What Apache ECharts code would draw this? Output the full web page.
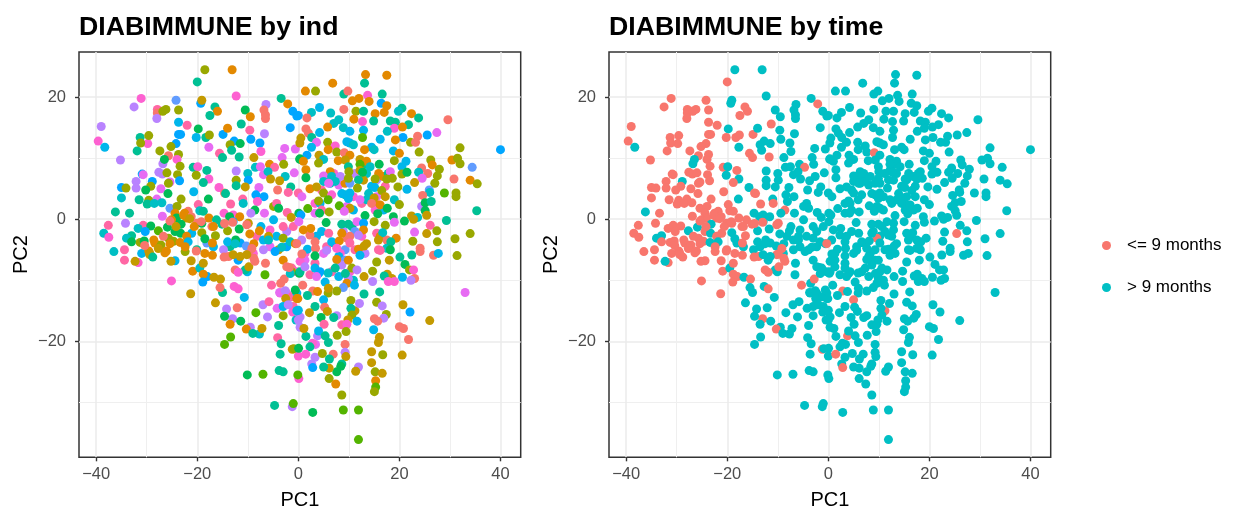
<!DOCTYPE html>
<html><head><meta charset="utf-8">
<style>html,body{margin:0;padding:0;background:#fff}#c{width:1238px;height:508px}</style>
<script src="https://cdn.jsdelivr.net/npm/echarts@6/dist/echarts.min.js"></script>
</head><body><div id="c"></div>
<script>
// rows: [PC1, PC2, individual index, time group (0: <= 9 months, 1: > 9 months)]
const denseCore = [
[5.3,7,8,1],[7,7.5,13,1],[6.3,5.9,7,1],[8,5.6,12,1],[9.25,5.9,1,1],[4.6,4.8,14,1],[3.3,2.6,13,1],[4.3,2.6,8,1],[3.3,1,12,1],[4.6,1.5,14,1],[9.25,4,7,1],[10.9,3.7,13,1],[9.6,2.1,12,1],[10.9,1.5,8,1],[12.55,8.6,6,1],[13.5,7.5,7,1],[12.9,6.4,2,1],[14.5,5.4,8,1],[15.5,6.45,11,1],[17.2,5.4,14,1],[16.8,7,1,1],[17.8,7.5,6,1],[15.5,3.7,12,1],[15.85,2.35,1,1],[16.85,1.5,8,1],[15.2,1.5,13,1],[12.55,2.6,14,1],[13.55,3.2,7,1],[11.2,7.5,11,1],[11.9,6.45,6,1],[10.2,5.9,10,1],
[10.6,-1.2,6,1],[11.2,-2,10,1],[12.55,-2.8,13,1],[8.9,-2,11,1],[10.2,-2.8,0,1],[15.5,-2.3,14,1],[16.2,-2.8,1,1],[17.5,-3.4,0,1],[17.5,-4.75,7,1],[15.85,-5,14,1],[13.2,-5.6,11,1],[11.2,-5,14,1],[9.25,-5,10,1],[8.3,-5.6,13,1],[7,-3.9,7,1],[5.6,-4.5,14,1],[3.6,-2.8,8,1],[2.3,-2.6,0,1],[0.67,-3.4,11,1],[1.3,-5.6,13,1],[5,-5.6,12,1],
[1.3,-6.7,12,1],[3.3,-7.2,14,1],[8,-6.1,8,1],[9.25,-6.7,10,1],[8.6,-7.5,11,1],[10.2,-8.6,13,1],[10.9,-10,7,1],[6.6,-8.6,14,1],[4,-8.9,8,1],[0.35,-6.9,13,1],[2.3,-9.1,14,1],[9.9,-9.7,11,1],[8,-9.4,8,1],
[-5.6,-1.75,13,1],[-4.3,-2.8,8,1],[-2.3,-2,11,1],[-1,-1.2,14,1],[-5.6,-4.5,12,1],[-2.3,-4.5,9,1],[-8.2,-2.8,14,1],[-6.9,-3.4,8,1],[-8.9,-5.6,13,1],[-11.5,-3.9,9,1],[-13.5,-4.5,6,1],[-16.8,-4.5,8,1],[-18.1,-3.9,10,1],
[-2.3,-12.1,12,1],[-1.3,-12.7,14,1],[-3.6,-12.1,13,1],[-0.3,-12.1,8,1],[-2.3,-13.8,11,1],[-1,-14.3,14,1],[0.35,-16,11,1],[-1.3,-8,14,1],[-0.3,-8.6,13,1]
];
const upperLeft = [
[-18.5,24.5,3,1],[-13.1,24.5,1,1],[-20,22.5,6,0],[-12.3,20.2,13,1],[-31.1,19.8,13,0],[-32.5,18.4,11,0],[-24.2,19.5,10,0],[-19.3,19,9,1],[-19.1,19.5,2,1],
[-27.9,18,14,0],[-27.9,17.4,0,0],[-28,16.5,11,0],[-26.2,18,3,0],[-26.8,17.7,3,0],[-23.7,17.9,3,0],[-16.5,18.4,6,0],[-16,17.7,1,0],[-17.5,17,6,0],[-10.5,17.9,5,1],[-9.5,16.8,1,1],
[-6.4,18.8,11,1],[-6.8,17.9,0,1],[-6.5,16.5,0,1],[-6.5,17.1,0,1],[-3.4,19.8,6,1],[-2.1,18.9,1,0],[-1.1,17.7,9,1],[-0.3,16.9,9,1],[-39,15.2,11,0],[-39.6,12.8,13,0],[-38.3,11.8,8,1],
[-23.7,15.9,8,0],[-22,15.4,14,0],[-19.8,14.8,5,1],[-23.7,13.9,9,0],[-23.3,13.9,9,0],[-20.2,13.4,8,0],[-18.3,13.4,6,0],[-17.6,13.8,3,0],[-14.9,13.9,9,0],[-14,14.9,1,1],[-11.3,15.6,6,0],
[-9.6,14.6,14,1],[-6.7,14,11,1],[-9.4,13.1,9,1],[-7.6,12.5,9,1],[-1.6,15,9,1],[-31.3,13.4,6,0],[-29.8,12.4,13,0],[-29.6,13.7,3,0],[-31.2,12.5,3,0],[-31.9,11.2,6,0],[-24.2,12.4,9,0],[-25.2,11.9,3,0],[-27.4,11.2,3,0],
[-35.2,9.7,11,0],[-25.7,10.4,0,0],[-23.7,10.6,3,0],[-24,9.8,13,0],[-26.8,9.1,11,1],[-26.5,9.8,5,1],[-17.7,11.8,12,1],[-12.7,12.8,9,1],[-13.5,12.2,3,1],[-11.5,12.4,5,1],[-13.2,11.3,6,1],[-11.7,10.2,6,0],
[-15.6,10.8,14,0],[-15,10.1,6,0],[-7.4,11.1,13,1],[-8.8,10.1,2,1],[-2.7,11.6,12,1],[-0.6,11.5,12,1],[-3.2,10.1,12,1],[-2.9,9,3,1],[0.3,9.8,5,1],
[-23.4,8.7,3,0],[-20.8,8.5,6,0],[-19.9,8.6,13,1],[-18.1,8,6,0],[-20.2,7.2,3,1],[-27.6,7.7,11,0],[-30.9,7.4,9,0],[-30.7,7.3,12,0],[-26.9,7.4,11,0],[-26,7.6,3,0],[-23.9,7.3,3,0],[-23.5,6.3,9,0],
[-12.3,7.9,11,1],[-8.5,8.5,7,1],[-7.5,8.6,12,1],[-5.7,9,1,1],[-4.7,8.5,14,0],[-10,7.5,7,1],[-6.9,7.3,12,1],[-6,7.8,7,1],[-5.5,6.6,2,1],[-9.9,6.4,9,1],[-12.3,6.4,3,1],[-2.6,7,7,1],[-3.7,6.3,2,1],[-0.8,7.6,12,1],
[-17.7,6.6,13,1],[-18.8,6,6,0],[-32.1,6.2,11,0],[-28.9,6.2,9,1],[-25.4,6.1,12,0],[-25.7,5.9,3,0],[-32.1,5.1,11,0],[-29.2,5.4,3,0],[-35,5.2,9,0],[-34.1,5.1,3,0],[-30.2,4.8,5,0],[-27.2,5,12,0],
[-20.7,4.5,8,0],[-25.8,4.2,5,0],[-15.7,5.2,13,1],[-14.6,4.3,0,0],[-14.4,4.2,6,0],[-12.3,5.5,6,1],[-10.5,5.3,2,1],[-7.8,5.2,12,1],[-1.5,5.3,6,1],[-4.1,4.8,0,1],[-2,4.4,14,1],[-8.4,4,9,1],[-6.8,3.7,9,1],
[-35,3.5,7,0],[-31.5,3.2,6,0],[-28,3.3,12,0],[-29.6,3.1,3,0],[-29.9,2.5,6,0],[-28.5,2.6,7,0],[-27,2.7,7,0],[-23.2,3.3,3,0],[-17.8,3.3,5,1],[-13.4,2.5,14,0],[-11,3.3,14,1],[-10.9,2.6,7,0],[-8.1,2.9,13,1],
[-4.9,2.1,3,1],[-4.3,2.6,14,1],[-3.9,1.8,5,1],[-8.6,1.5,5,0],[-25.4,1.8,10,0],[-24,2.1,3,0],[-19.8,2.4,14,0],[-36.2,1.2,6,1],[-33.4,1,6,0],[-26.9,0.5,12,0],[-19.5,1.4,7,0],[-18.8,1.3,6,0],
[-14.7,1,13,1],[-12.9,0.7,13,1],[-9.4,1,11,1],[-6.7,1,12,1],[-2.2,1.1,14,1],[-1.4,0.3,2,1],[0.1,1,5,1],[-21.8,1.3,0,0],[-24.4,1,1,0],[-22.1,0.2,2,0],[-24.1,0.2,5,0],
[-22.5,1,1,0],[-21.2,0.4,0,0],[-25.1,-0.1,1,0]
];
const lowerLeft = [
[-37.6,-1,14,0],[-34.2,-0.65,11,0],[-38.5,-2.3,7,0],[-37.5,-2.95,13,0],[-30.7,-1,14,0],[-29.2,-1.1,5,0],[-31.7,-1.5,7,0],[-30.3,-2,9,0],[-27.7,-1.9,4,1],[-25.9,-1.3,5,1],[-23.2,-0.8,5,1],[-24.4,-2,5,0],[-23.3,-2.3,5,1],
[-20.1,-0.65,0,0],[-19.1,-0.65,5,0],[-17.7,0.2,1,0],[-16.2,-0.1,6,0],[-15.1,-0.8,6,0],[-13.6,0.4,5,1],[-11.6,0.4,1,1],[-12.9,-0.4,9,1],[-9.9,-0.65,2,0],[-11.7,-1.6,5,1],[-7.4,-1.2,8,1],[-7.7,-1.9,1,1],[-3,-1.2,14,1],[-4.9,-0.1,8,1],
[-5.9,-2.8,2,1],[-9.6,-2.4,1,1],[-14,-1.9,3,1],[-17.1,-1.2,0,0],[-16.4,-2.7,3,0],[-19.1,-2.2,3,1],[-21.1,-2.3,8,0],[-22.1,-2.8,1,0],[-25.7,-3.1,3,0],[-24.7,-3.6,3,0],[-33,-2.7,6,1],[-34,-3.1,7,1],[-33,-3.7,5,0],[-31.3,-3.8,3,0],[-30.5,-3.55,5,0],
[-28.4,-3.9,1,0],[-27.2,-4.2,3,0],[-23.4,-3.8,1,1],[-21.8,-3.7,8,1],[-18.5,-3.2,5,1],[-17,-3.9,1,0],[-36.5,-5.3,7,0],[-34.4,-5,14,0],[-31,-5.6,8,0],[-29.6,-5.2,1,0],[-26.4,-5.5,1,0],[-22.4,-5.3,3,0],[-20.1,-5,6,0],[-18.5,-5.6,1,0],[-17,-5.9,1,0],
[-14.8,-5,11,1],[-14,-3.7,8,1],[-12.4,-3.4,5,1],[-12.5,-4,7,1],[-10.3,-4.4,10,1],[-8.8,-4,1,1],[-6.9,-5,11,1],[-5.9,-3.4,7,1],[-3,-3.1,3,1],[-3.9,-5,2,1],[-3.3,-4.6,7,1],[-4.6,-5.3,9,1],[-1.6,-3.7,7,1],[-0.6,-4,1,1],
[-22.7,0.7,1,0],[-21.5,0.1,2,0],[-25.4,-0.3,0,0],[-24.2,-1.2,2,0],[-20.6,-1.2,1,0],[-19.2,-0.4,0,0],[-16.8,-1.2,1,0],[-14.6,-0.7,0,0],[-13,-0.5,0,0],[-10.2,-0.9,0,0],[-28.6,-3.4,1,0],[-26.7,-2.8,0,0],[-25.4,-4,1,0],[-22.4,-4.5,1,0],[-20.2,-5.2,0,0],[-30.4,-4.3,0,0],[-29.4,-5.6,2,0],[-27.7,-4.8,2,0],[-26.1,-5.2,1,0],[-9.9,-5.7,0,0],[-9.2,-4.8,0,0],
[-34.4,-6.7,14,0],[-31.7,-7.1,13,0],[-32.3,-6.9,2,1],[-29.4,-5.8,2,0],[-28.8,-6.2,6,0],[-24.4,-6.8,8,0],[-25.2,-6.9,2,0],[-25.1,-10.1,13,0],[-21.3,-12.2,2,0],[-21.2,-6.8,2,0],[-20.9,-8.5,1,0],[-19.5,-8,7,1],[-18.8,-7.2,2,0],[-18,-9.4,9,0],[-18.8,-9,1,0],[-18.9,-10.3,9,0],[-16.7,-9.5,2,1],[-15.4,-9.8,2,0],
[-15,-12,6,1],[-15.5,-11.2,0,1],[-16.4,-13.7,2,1],[-12.7,-11,13,1],[-11.9,-11.4,13,0],[-10.7,-12.8,8,1],[-14.2,-14.7,11,1],[-12.1,-14.5,0,1],[-13,-16.3,11,0],[-14.6,-15.9,5,1],[-13.5,-17.2,1,1],[-11.4,-16.7,5,1],[-9.5,-17.7,11,1],[-10.3,-18,1,0],[-7.7,-18.8,7,1],[-9,-18.7,6,1],[-7.2,-17.9,2,1],[-13.4,-19.3,4,1],[-14.6,-20.5,4,1],[-8.4,-15.3,4,1],[-6.1,-16,11,1],[-7,-14,11,1],[-5.8,-13.5,14,1],[-4.2,-14.6,12,1],[-3.9,-17.4,6,1],[-4.1,-19.4,14,1],[-3.4,-20.4,6,1],[-3.6,-22.1,6,1],
[-1.2,-21.3,2,0],[0,-22.4,13,1],[-0.9,-21.2,3,1],[0.05,-21.15,5,1],[-10.1,-25.5,5,1],[-7,-25.4,4,1],[-3.8,-24.8,6,1],[-3,-25,6,1],[0.1,-26.1,13,1],[-0.1,-25.5,4,1],[-4.7,-30.5,6,1],[-1.2,-30.7,11,1],[-1,-30.2,4,1],
[-14.7,-6.2,0,0],[-13.8,-6.1,0,0],[-11.9,-6.7,9,1],[-10.1,-8.6,8,1],[-10.5,-8.3,6,1],[-12.5,-8.3,0,0],[-11.9,-8.7,13,0],[-9.8,-7.8,2,0],[-8.8,-6.4,0,0],[-10.2,-5.8,2,0],[-12.9,-5.8,2,1],[-11.5,-6.1,2,1],[-8.6,-6.9,0,0],[-6.5,-7.2,0,1],[-6.6,-9.1,4,1],[-5.3,-10.8,14,0],[-3.5,-10.5,0,1],[-2.8,-9.8,0,0],[-3.7,-12,12,1],[-2.6,-11.7,11,1],[-0.6,-11.6,5,1],[-2.5,-13,2,1],[-3,-14.3,8,1],[-3,-15.8,3,1],[-2,-14,11,1],[-1.1,-15.2,13,1],[-0.3,-15,8,1],[-0.45,-16.5,7,1],[0.35,-17.7,11,1],[-0.3,-13,1,1],[-3,-6.7,1,1],[-2.3,-7.8,0,1],[-1.3,-8.6,3,1],[-1.6,-8.9,7,1],[0.2,-8.85,5,1],[-1.8,-7.9,0,1]
];
const upperRight = [
[9.6,-3.1,0,0],
[13.3,23.7,1,1],[17.5,23.6,1,1],[13.1,22.3,6,1],[6.8,22.3,1,1],[1.4,21,1,1],[3.4,21,3,1],[9,20.5,6,1],[9.8,21,0,1],[10.7,19.4,1,1],[12,19.8,1,1],[13.7,20.3,13,1],[14,19.3,1,1],[16.6,20.5,6,1],[16.4,19,9,1],[17.5,18.6,1,1],[9,18,0,1],[11.4,17.7,3,1],[12.9,17.7,6,1],[15.2,17.3,1,1],[17,17.5,1,1],[20.5,18.2,6,1],[19.8,17.7,7,1],[22.4,17.3,1,1],[23.8,16.6,6,1],[29.6,16.3,0,1],
[4.2,18.3,8,1],[2.6,17.5,7,1],[6.4,17.4,7,1],[0,17,9,1],[1.7,16.6,0,1],[8,16.3,7,1],[11,16.4,1,1],[12.7,16,13,1],[7,15.7,7,1],[5.8,15.1,1,1],[8.9,15,7,1],[14.9,16.1,6,1],[18.2,16.1,6,1],[19.2,15.9,6,1],[21.8,15.5,6,1],[19,14.9,13,1],[20.6,15.1,1,1],[1.5,14.8,0,1],[2,14.1,0,1],[4.2,14.2,8,1],[10.2,14.4,8,1],[12.9,14.6,8,1],[17.6,14.4,7,1],[12.7,13.4,4,1],[16.2,13.1,8,1],[20.7,13.4,9,1],[19.2,13,1,1],[23.6,13.6,0,1],[25.5,13.8,9,1],[27.4,14.2,12,1],[22.2,12.6,3,1],[23.2,12.6,0,1],[23.9,11,3,1],[32,11.7,3,1],[40,11.4,9,1],
[0.5,13.3,2,1],[2.65,13.4,6,1],[3.6,12.6,12,1],[5.8,12.6,3,1],[9.6,12.7,8,1],[10.2,12.5,8,1],[10.9,12.2,7,1],[14.5,11.8,8,1],[7.3,12,13,1],[0.3,12.5,2,1],[2.6,11.8,8,1],[5.9,11.4,1,1],[13.1,11.4,1,1],[15,11.4,7,1],[18.8,11.2,8,1],[20,10.8,1,1],[7.6,11,3,1],[9.1,10.9,0,0],[10.2,10.5,1,1],[1.7,10.5,9,1],[4.1,10.5,2,1],[5,9.8,7,1],[0.3,9.9,5,1],[7.9,9.6,1,1],[9.3,9.7,2,1],[12.2,9.8,2,1],[13.5,9.5,1,1],[19,9.6,3,1],[30.4,9.7,1,1],[31.5,10,3,1],[32,9.1,3,1],[26.2,9.7,3,1],[26.5,8.9,1,1],[21.3,9.5,8,1],[16,9,5,1],[1,9.5,1,1],[4,9.2,3,1],[9.9,8.6,6,1],[12.2,9,4,1],[14.2,8.6,7,1],[20.5,8.6,8,1],[27.9,8.2,3,1],[24.4,8.4,0,1],[34.4,8.5,10,1],
[1.5,8.1,1,1],[6.3,7.8,1,1],[10,7.8,3,1],[12.2,8,2,1],[12.7,7.7,5,1],[15.9,7.5,1,1],[18.2,7.8,12,1],[20.5,7.4,3,1],[21.5,7.7,5,1],[23.8,7.7,7,1],[25.6,7.5,0,1],[27.5,7.1,3,1],[24.5,6.7,12,1],[1.5,6.8,5,1],[5,7.1,12,1],[6.6,7,7,1],[8.3,7,11,1],[9.9,6.7,3,1],[15.2,6.6,3,1],[17.5,6.6,3,1],[18.6,6.7,3,1],[30.8,6.6,0,1],[34,6.4,1,1],[35.4,5.8,3,1],[27,5.9,3,1],[23,6,2,1],[5,6.2,7,1],[7.3,6.2,7,1],[6,5.9,12,1],
[2.3,5,1,1],[3.6,5.3,2,1],[11.7,5.1,3,1],[15.1,5.2,8,1],[19.7,5.3,3,1],[21.5,4.9,8,1],[25.9,4.8,10,1],[26,4.4,7,1],[28.9,4.3,4,1],[31.2,4.3,3,1],[31.2,3.7,3,1],[24.6,3.9,0,1],[0,4.3,14,1],[0.7,3.7,12,1],[5,4.3,3,1],[6.6,4,13,1],[8.6,4.2,8,1],[10.2,4.3,8,1],[13.9,4.2,7,1],[16.5,4.7,3,1],[5.9,3.2,4,1],[4,3,3,1],[9.9,3.4,8,1],[12.2,3.2,12,1],[15,3.5,2,1],[17.2,3.7,2,1],[19,3.2,7,1],
[8.1,2.2,4,1],[10.2,1.8,2,1],[14.5,2.6,0,1],[16.2,2.35,1,1],[17.6,1.8,5,1],[20,2.4,3,1],[24.4,2.1,11,1],[25.1,2.7,5,1],[26.3,2.9,6,1],[25.1,1.4,5,1],[35.3,1.4,6,1],[25.4,0.66,2,1],[1.86,1.75,4,1],[0.5,0.7,9,1],[4.2,1,5,1],[6.1,1.2,3,1],[9.1,1.3,12,1],[13.2,0.6,5,1],[15.7,0.9,5,1],[18.8,0.4,5,1],[22.4,0.55,2,1],[23.6,0.3,7,1],[21,-0.3,5,1],[22.8,0,2,1],[29.3,-0.2,6,1],
[15,-0.4,3,1],[19,-0.5,12,1],[5.5,-0.55,5,1],[8.6,-0.8,6,1],[9.9,-0.8,6,1],[11.6,-0.4,12,1],[12.9,-0.65,9,1],[17.2,-1,3,1],[26.1,-1,14,1],[0.1,-0.4,12,1],[12.9,-1.75,1,1],[4.6,-2,8,1],[2.45,-1.5,1,1],[1,-1.75,1,1],[8.6,-2.3,1,1],[6,-2.3,14,1],[23,-2.1,12,1],[25.4,-2.35,2,0],[16.7,-2.2,7,1],[34,-2.35,3,1],[27.4,-1.9,3,1],[31,-3.2,3,1],[19.35,-3.1,1,1],[15.85,-3.4,2,1],[11.9,-2.6,11,1],
[-0.3,-4,0,0],[3.3,-3.7,0,1],[6.6,-3.7,8,1],[8.1,-3.55,1,1],[10.2,-3.9,14,1],[13.5,-4,2,1],[18.3,-3.7,6,1],[22.65,-3.6,3,1],[27.5,-3.7,3,1],[24.1,-4.75,0,1],[24.1,-5.3,0,1],[1.8,-4.9,8,1],[3.4,-4.75,0,1],[5.6,-5.1,11,1],[7.6,-4.75,13,1],[11.9,-4.9,1,1],[13,-4.4,2,1],[16.2,-5.1,14,1],[18.2,-5,5,1],[22.45,-5.85,6,1],[26.75,-5.9,0,1],[27.7,-5.6,8,1],[31.4,-5.95,3,1]
];
const lowerRight = [
[2.85,-11.75,0,0],[11.2,-15,2,0],[3.8,-19.1,11,0],
[0.7,-5.7,0,1],[3.3,-6,5,1],[7.6,-6.6,1,1],[9.9,-6.7,1,1],[12.2,-5.9,8,1],[10.6,-8,3,1],[11.6,-8.3,11,1],[13,-9.4,2,1],[15.5,-7,3,1],[14.7,-8.5,3,1],[14.7,-10.2,11,1],[18,-6.7,2,1],[20.1,-6.2,6,1],[21.1,-7.4,5,1],[22,-8.3,3,1],[22.8,-8.3,13,1],[23,-9.7,0,1],[22.3,-10,11,1],[20.6,-9.5,8,1],[18.5,-9.7,2,1],[17.6,-9,2,1],[17,-9.3,6,1],[17.8,-10.2,13,1],[19,-10.2,13,1],[33,-12,12,1],
[0.35,-8.6,6,1],[1.3,-7.8,11,1],[3.3,-8,8,1],[4.3,-8.6,9,1],[5.9,-8.8,7,1],[7.3,-8,6,1],[3.6,-9.4,12,1],[9.3,-8.9,6,1],[9.6,-10.5,1,1],[11.1,-10.8,8,1],[8.9,-11.2,10,1],[7.6,-11.75,3,1],[5.9,-12.1,3,1],[5.3,-10.3,8,1],[0.87,-10.8,0,1],[3.8,-11.85,1,1],[5.95,-11.3,2,1],[-0.1,-13,1,1],[5,-13.2,8,0],[1.8,-12.5,6,1],[3.3,-14.3,6,1],[2.2,-15.3,2,1],[5.2,-14.4,0,1],[5.75,-15.1,2,1],[0,-14.9,8,1],[4.5,-16.1,5,1],[7.6,-15.8,11,1],[7,-16.1,6,1],
[10.4,-13.3,3,1],[12.1,-13.8,11,1],[10.4,-14.6,6,1],[10.6,-15.7,3,1],[11.6,-16.7,8,1],[9.8,-16.5,2,1],[8.6,-17.3,14,1],[9.6,-17.2,13,1],[9.45,-18.4,3,1],[7.7,-19,3,1],[5.1,-17.2,14,1],[4,-18.3,8,1],[5.3,-19.1,6,1],[5.95,-20.2,6,1],[1.5,-19.2,6,1],[1.1,-17.9,2,1],[0,-16.5,11,1],
[3.4,-20.5,12,1],[2.8,-20.3,13,1],[2.3,-20.9,6,1],[1.46,-22.1,13,0],[3.3,-22.6,11,1],[4.75,-22,3,1],[6.9,-22.1,0,1],[9.25,-20.5,0,1],[9.25,-21.8,11,1],[9.4,-22.5,2,1],[6.15,-22.9,6,1],[8.6,-23.7,6,1],[8.4,-24.1,5,1],[7.6,-25,5,1],[6.1,-24.4,2,1],[5,-24.2,6,1],[2.65,-23.7,11,1],[2.85,-24.3,9,0],[11.9,-24.2,11,1],[11.35,-24.9,2,1],
[14.5,-21.7,2,1],[16.7,-22.2,3,1],[14.5,-23.5,2,1],[15.2,-25,3,1],[16.6,-25.25,2,1],[15.3,-26.45,1,1],[15.3,-27.5,4,1],[15.05,-28.25,3,1],[6.1,-26.1,3,1],[7.4,-27,1,1],[8.6,-28.8,3,1],[2.85,-31.65,5,1],[8.9,-31.25,4,1],[11.9,-31.25,4,1],[11.9,-36.1,4,1],
[20.7,-14,2,1],[22.1,-15.2,9,1],[26,-16.6,2,1],[15.5,-13.6,3,1],[16.6,-14.2,11,1],[17.4,-15.6,3,1],[16.9,-16.2,11,1],[15.05,-16.3,0,1],[15.7,-16.7,0,1],[14.9,-18.1,8,1],[16.05,-19.35,2,1],[15.85,-20.2,2,1],[20,-17.6,0,1],[20.8,-17.9,0,1],[21.8,-19.7,0,1],[20.55,-22.25,2,1],[13,-12.25,6,1],[16.1,-11.9,6,1]
];
const allRows = [...denseCore, ...upperLeft, ...lowerLeft, ...upperRight, ...lowerRight];
const indColors = ['#F8766D','#E38900','#C49A00','#99A800','#53B400','#00BC56','#00C094','#00BFC4','#00B6EB','#00A6FF','#619CFF','#B983FF','#E76BF3','#FD61D1','#FF67A4'];
const timeNames = ['<= 9 months','> 9 months'];
const timeColors = ['#F8766D','#00BFC4'];
const xTicks = [-40,-20,0,20,40];
const xMinor = [-30,-10,10,30];
const yTicks = [-20,0,20];
const yMinor = [-30,-10,10];
const titles = ['DIABIMMUNE by ind','DIABIMMUNE by time'];
const gridLefts = [79,609];
const FONT = '"Liberation Sans", Arial, sans-serif';
const minus = v => String(v).replace('-', '\u2212');

function mainAxis(name, ticks, min, max, gap, margin, gridIndex){
  return {type:'value',gridIndex,min,max,name,nameLocation:'middle',nameGap:gap,
    nameTextStyle:{color:'#000',fontSize:20,fontFamily:FONT},
    axisLine:{show:false,onZero:false},
    axisTick:{show:true,length:4,inside:false,lineStyle:{color:'#333',width:1.4},customValues:ticks},
    axisLabel:{show:true,color:'#4D4D4D',fontSize:16.5,fontFamily:FONT,margin,formatter:minus,customValues:ticks,hideOverlap:false,showMinLabel:true,showMaxLabel:true},
    splitLine:{show:true,lineStyle:{color:'#EBEBEB',width:1.5}}};
}
function minorAxis(ticks, min, max, gridIndex){
  return {type:'value',gridIndex,min,max,axisLine:{show:false,onZero:false},
    axisTick:{show:false,customValues:ticks},axisLabel:{show:false,customValues:ticks},
    splitLine:{show:true,lineStyle:{color:'#EFEFEF',width:1}}};
}
const X=[-43.4,44.0], Y=[-39.0,27.4];
const grids=[],xAxes=[],yAxes=[];
gridLefts.forEach((l,i)=>{
  grids.push({left:l,top:52,width:441.7,height:405.3,outerBoundsMode:'none',show:true,backgroundColor:'#fff',borderColor:'#333',borderWidth:1.5});
  xAxes.push(mainAxis('PC1',xTicks,X[0],X[1],33,9,i));
  yAxes.push(mainAxis('PC2',yTicks,Y[0],Y[1],48,13,i));
});
gridLefts.forEach((l,i)=>{ xAxes.push(minorAxis(xMinor,X[0],X[1],i)); yAxes.push(minorAxis(yMinor,Y[0],Y[1],i)); });

const option={
  animation:false,backgroundColor:'#fff',
  title:titles.map((t,i)=>({text:t,left:gridLefts[i],top:14,padding:0,textStyle:{fontFamily:FONT,fontWeight:'bold',fontSize:26.7,color:'#000'}})),
  grid:grids,xAxis:xAxes,yAxis:yAxes,
  legend:{orient:'vertical',left:1097,top:232,icon:'circle',itemWidth:9,itemHeight:9,itemGap:25,selectedMode:false,
    data:timeNames,textStyle:{fontFamily:FONT,fontSize:17,color:'#000',padding:[0,0,0,11]}},
  series:[
    {type:'scatter',xAxisIndex:0,yAxisIndex:0,symbolSize:9,silent:true,
     data:allRows.map(r=>({value:[r[0],r[1]],itemStyle:{color:indColors[r[2]],opacity:1}}))},
    {type:'scatter',xAxisIndex:1,yAxisIndex:1,symbolSize:9,silent:true,
     data:allRows.map(r=>({value:[r[0],r[1]],itemStyle:{color:timeColors[r[3]],opacity:1}}))},
    {type:'scatter',name:timeNames[0],xAxisIndex:1,yAxisIndex:1,data:[],itemStyle:{color:timeColors[0],opacity:1}},
    {type:'scatter',name:timeNames[1],xAxisIndex:1,yAxisIndex:1,data:[],itemStyle:{color:timeColors[1],opacity:1}}
  ]
};
echarts.init(document.getElementById('c'),null,{renderer:'canvas'}).setOption(option);
</script></body></html>
